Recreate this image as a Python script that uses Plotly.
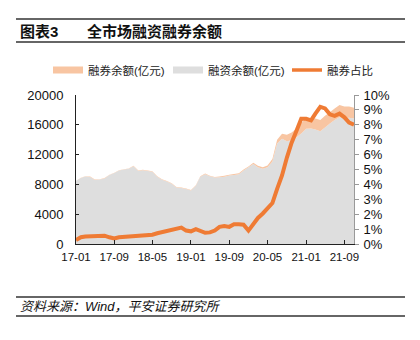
import pandas as pd
import plotly.graph_objects as go

months = pd.date_range("2017-01-01", periods=59, freq="MS")

# 融资余额 (亿元)
margin_financing = [
    8477, 8860, 9055, 9005, 8602, 8656, 8800, 9258, 9515, 9855,
    10002, 10100, 10448, 9796, 9892, 9793, 9690, 9034, 8630, 8374,
    8075, 7570, 7516, 7383, 7188, 7821, 9020, 9379, 9079, 8919,
    8946, 9040, 9193, 9276, 9375, 9870, 10306, 10753, 10316, 10089,
    10297, 11086, 13482, 14119, 13800, 13933, 14322, 14839, 15480, 15497,
    15376, 15118, 15635, 16160, 16635, 17018, 16882, 16946, 16836,
]
# 融券余额 (亿元)
short_selling = [
    23, 40, 45, 45, 48, 44, 50, 42, 35, 45,
    48, 50, 52, 54, 58, 57, 60, 66, 70, 76,
    75, 80, 84, 67, 62, 79, 80, 71, 71, 81,
    104, 110, 107, 124, 125, 130, 94, 147, 184, 211,
    253, 314, 518, 681, 850, 1017, 1178, 1361, 1420, 1403,
    1474, 1532, 1565, 1540, 1565, 1632, 1568, 1504, 1464,
]
# 融券占比 (%)
short_ratio = [
    0.27, 0.45, 0.50, 0.50, 0.56, 0.50, 0.56, 0.45, 0.37, 0.45,
    0.48, 0.49, 0.50, 0.55, 0.58, 0.58, 0.62, 0.72, 0.80, 0.90,
    0.92, 1.05, 1.10, 0.90, 0.85, 1.00, 0.88, 0.75, 0.78, 0.90,
    1.15, 1.20, 1.15, 1.32, 1.32, 1.30, 0.90, 1.35, 1.75, 2.05,
    2.40, 2.75, 3.70, 4.60, 5.80, 6.80, 7.60, 8.40, 8.40, 8.30,
    8.75, 9.20, 9.10, 8.70, 8.60, 8.75, 8.50, 8.15, 8.00,
]

names = ["融券余额(亿元)", "融资余额(亿元)", "融券占比"]
C_ORANGE_FILL = "#F8C5A2"
C_GRAY = "#DEDEDE"
C_LINE = "#EF7B34"

FONT = "Liberation Sans, Arial, Noto Sans CJK SC, sans-serif"

# plot area in pixels: x 76..354, y 95..244
L, R, T, B = 76, 354, 95, 244
W, H = R - L, B - T
def px(x):
    return (x - L) / W
def py(y):
    return (B - y) / H

fig = go.Figure()
fig.add_trace(go.Scatter(x=months, y=margin_financing, stackgroup="one",
                         mode="none", fillcolor=C_GRAY, showlegend=False,
                         name=names[1]))
fig.add_trace(go.Scatter(x=months, y=short_selling, stackgroup="one",
                         mode="none", fillcolor=C_ORANGE_FILL, showlegend=False,
                         name=names[0]))
fig.add_trace(go.Scatter(x=months, y=short_ratio, yaxis="y2", mode="lines",
                         line=dict(color=C_LINE, width=4), showlegend=False,
                         name=names[2]))

# legend entries, each in its own legend box
legend_ids = ["legend", "legend2", "legend3"]
for nm, col, w, lg in zip(names, [C_ORANGE_FILL, C_GRAY, C_LINE], [7, 7, 3.5], legend_ids):
    fig.add_trace(go.Scatter(x=[None], y=[None], mode="lines", name=nm,
                             line=dict(color=col, width=w), legend=lg))

legend_x_px = [48, 168, 287]
legend_common = dict(orientation="h", xanchor="left", y=py(70), yanchor="middle",
                     font=dict(size=11.5, color="#222"), bgcolor="rgba(0,0,0,0)",
                     borderwidth=0)
legends = {}
for lg, xp in zip(legend_ids, legend_x_px):
    legends[lg] = dict(x=px(xp), **legend_common)

shapes = []
for yy in (19, 42, 297, 316):
    shapes.append(dict(type="line", xref="paper", yref="paper",
                       x0=px(16), x1=px(405), y0=py(yy), y1=py(yy),
                       line=dict(color="#333333", width=1.5)))

annotations = [
    dict(text="<b>图表3</b>", xref="paper", yref="paper", x=px(18), y=py(31),
         xanchor="left", yanchor="middle", showarrow=False,
         font=dict(size=15, color="#111", family=FONT)),
    dict(text="<b>全市场融资融券余额</b>", xref="paper", yref="paper", x=px(85), y=py(31),
         xanchor="left", yanchor="middle", showarrow=False,
         font=dict(size=15, color="#111", family=FONT)),
    dict(text="<i>资料来源：Wind，平安证券研究所</i>", xref="paper", yref="paper",
         x=px(18), y=py(306.5), xanchor="left", yanchor="middle", showarrow=False,
         font=dict(size=13, color="#111", family=FONT)),
]

fig.update_layout(
    width=420, height=340,
    margin=dict(l=L, r=420 - R, t=T, b=340 - B, pad=0),
    paper_bgcolor="white", plot_bgcolor="white",
    font=dict(family=FONT, size=12, color="#111"),
    showlegend=True,
    xaxis=dict(range=[months[0], months[-1]], tickformat="%y-%m", dtick="M8",
               tick0="2017-01-01", ticks="inside", ticklen=4, tickcolor="#222",
               showline=True, linecolor="#222", linewidth=1, showgrid=False,
               zeroline=False, tickfont=dict(size=11.5), ticklabelstandoff=2),
    yaxis=dict(range=[0, 20000], dtick=4000, tickformat="d", ticks="inside", ticklen=3,
               tickcolor="#222", showline=True, linecolor="#222", linewidth=1,
               showgrid=False, zeroline=False, tickfont=dict(size=13),
               ticklabelstandoff=9),
    yaxis2=dict(range=[0, 10], dtick=1, ticksuffix="%", overlaying="y", side="right",
                ticks="outside", ticklen=4, tickcolor="#999", showline=True,
                linecolor="#999", linewidth=1, showgrid=False, zeroline=False,
                tickfont=dict(size=13), ticklabelstandoff=2),
    shapes=shapes, annotations=annotations,
    **legends,
)

fig.write_html("out.html")
